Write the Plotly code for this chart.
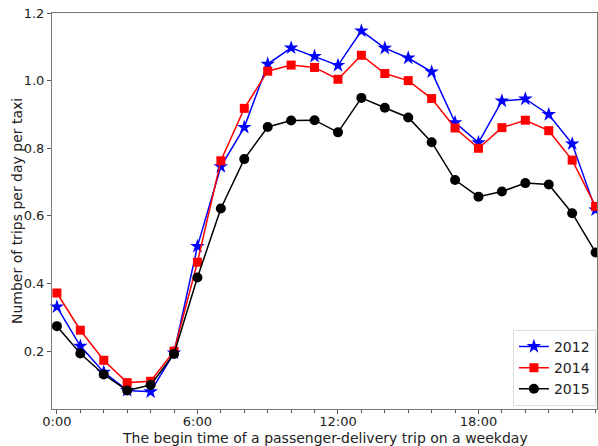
import plotly.graph_objects as go

hours = list(range(24))
trips_2012 = [0.331, 0.215, 0.138, 0.084, 0.080, 0.195, 0.510, 0.746, 0.862, 1.049,
              1.097, 1.072, 1.045, 1.147, 1.096, 1.067, 1.026, 0.876, 0.817, 0.940,
              0.946, 0.900, 0.813, 0.618]
trips_2014 = [0.372, 0.262, 0.173, 0.107, 0.111, 0.200, 0.463, 0.763, 0.918, 1.028,
              1.046, 1.039, 1.004, 1.075, 1.021, 1.000, 0.947, 0.860, 0.800, 0.861,
              0.883, 0.852, 0.765, 0.628]
trips_2015 = [0.274, 0.193, 0.131, 0.084, 0.100, 0.192, 0.418, 0.622, 0.768, 0.863,
              0.882, 0.883, 0.847, 0.949, 0.920, 0.891, 0.818, 0.706, 0.657, 0.672,
              0.697, 0.693, 0.608, 0.492]
tick_hours = [0, 6, 12, 18]
tick_labels = ["0:00", "6:00", "12:00", "18:00"]

series = [
    ("2012", trips_2012, "#0000ff", "star", 11),
    ("2014", trips_2014, "#ff0000", "square", 9),
    ("2015", trips_2015, "#000000", "circle", 10),
]

fig = go.Figure()
for name, vals, color, symbol, size in series:
    fig.add_trace(go.Scatter(
        x=hours, y=vals, name=name, mode="lines+markers",
        line=dict(color=color, width=1.5),
        marker=dict(symbol=symbol, size=size, color=color, line=dict(width=0)),
        cliponaxis=False,
    ))

font = "DejaVu Sans, sans-serif"
text_color = "#222222"
fig.update_layout(
    width=598, height=446,
    margin=dict(l=52, r=1, t=13, b=37),
    paper_bgcolor="white", plot_bgcolor="white",
    font=dict(family=font, size=13, color=text_color),
    showlegend=True,
    legend=dict(
        x=0.998, y=0.008, xanchor="right", yanchor="bottom",
        bgcolor="white", bordercolor="#dddddd", borderwidth=1,
        font=dict(size=14, color=text_color),
        tracegroupgap=0,
    ),
    xaxis=dict(
        range=[-0.21, 23.06],
        tickmode="array", tickvals=tick_hours, ticktext=tick_labels,
        ticks="outside", ticklen=4, tickcolor="#555555",
        ticklabelstandoff=-4,
        minor=dict(dtick=1, ticks="outside", ticklen=2.5, tickcolor="#555555"),
        showgrid=False, zeroline=False,
        showline=True, linecolor="#777777", linewidth=1, mirror=True,
        tickfont=dict(size=13),
    ),
    yaxis=dict(
        range=[0.029, 1.2],
        tickmode="array", tickvals=[0.2, 0.4, 0.6, 0.8, 1.0, 1.2],
        tickformat=".1f",
        ticks="outside", ticklen=4, tickcolor="#555555",
        showgrid=False, zeroline=False,
        showline=True, linecolor="#777777", linewidth=1, mirror=True,
        tickfont=dict(size=13),
    ),
    annotations=[
        dict(text="The begin time of a passenger-delivery trip on a weekday",
             xref="paper", yref="paper", x=0.5, y=0, xanchor="center", yanchor="middle",
             yshift=-29, showarrow=False, font=dict(size=14, color=text_color)),
        dict(text="Number of trips per day per taxi",
             xref="paper", yref="paper", x=0, y=0.5, xanchor="center", yanchor="middle",
             xshift=-35, textangle=-90, showarrow=False,
             font=dict(size=14, color=text_color)),
    ],
)

fig.write_html("out.html")
